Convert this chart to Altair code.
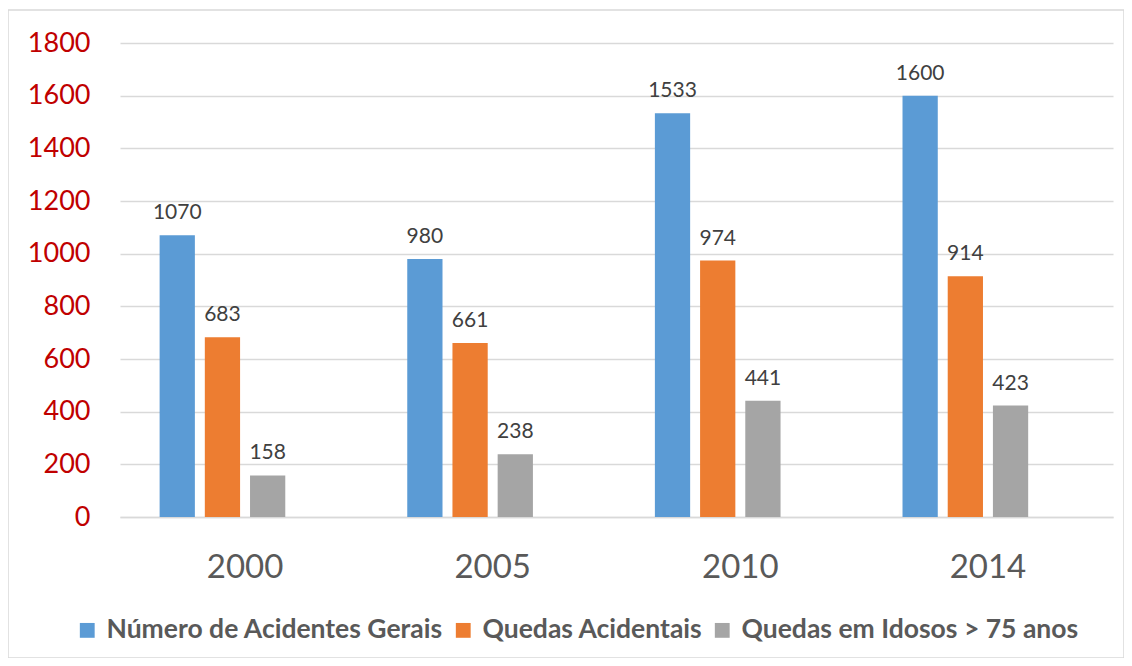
import altair as alt
import pandas as pd

years = ["2000", "2005", "2010", "2014"]
series = ["Número de Acidentes Gerais", "Quedas Acidentais", "Quedas em Idosos > 75 anos"]
geral = [1070, 980, 1533, 1600]
quedas = [683, 661, 974, 914]
idosos = [158, 238, 441, 423]
colors = ["#5B9BD5", "#ED7D31", "#A5A5A5"]
y_ticks = [0, 200, 400, 600, 800, 1000, 1200, 1400, 1600, 1800]

rows = []
for vals, s in zip([geral, quedas, idosos], series):
    for yr, v in zip(years, vals):
        rows.append({"ano": yr, "serie": s, "valor": v})
df = pd.DataFrame(rows)

FONT = "Lato"

x_enc = alt.X("ano:N", sort=years,
              scale=alt.Scale(paddingInner=0.31, paddingOuter=0.16),
              axis=alt.Axis(title=None, labelAngle=0, labelFontSize=33, labelColor="#595959",
                            labelFont=FONT, labelPadding=34, ticks=False,
                            domainColor="#D9D9D9", domainWidth=1.5, grid=False))
xo_enc = alt.XOffset("serie:N", scale=alt.Scale(domain=series + ["_vazio"], paddingInner=0.22, paddingOuter=0))

base = alt.Chart(df)

bars = base.mark_bar().encode(
    x=x_enc,
    xOffset=xo_enc,
    y=alt.Y("valor:Q", scale=alt.Scale(domain=[0, 1800], nice=False),
            axis=alt.Axis(title=None, values=y_ticks, format="d", labelFontSize=27, labelColor="#C00000",
                          labelFont=FONT, labelPadding=30, ticks=False, domain=False,
                          gridColor="#D9D9D9", gridWidth=1.5)),
    color=alt.Color("serie:N", scale=alt.Scale(domain=series, range=colors),
                    legend=alt.Legend(title=None, orient="none", legendX=-46, legendY=574,
                                      direction="horizontal", symbolType="square", symbolSize=220,
                                      symbolStrokeWidth=0, labelFontSize=26.5, labelFontWeight="bold",
                                      labelColor="#595959", labelFont=FONT, columnPadding=6,
                                      labelOffset=6, labelLimit=0)),
)

labels = base.mark_text(baseline="bottom", dy=-12, fontSize=21, color="#404040", font=FONT).encode(
    x=alt.X("ano:N", sort=years),
    xOffset=xo_enc,
    y="valor:Q",
    text="valor:Q",
)

border = alt.Chart(pd.DataFrame({"a": [0]})).mark_rect(
    fillOpacity=0, stroke="#D9D9D9", strokeWidth=1.5
).encode(x=alt.value(-112), x2=alt.value(1004), y=alt.value(-33), y2=alt.value(615))

chart = alt.layer(border, bars, labels).properties(
    width=993, height=474,
    autosize=alt.AutoSizeParams(type="none"),
    padding={"left": 112, "top": 35, "right": 11, "bottom": 141},
).configure_view(stroke=None)

chart.save("out.html", embed_options={"renderer": "svg", "actions": False})
